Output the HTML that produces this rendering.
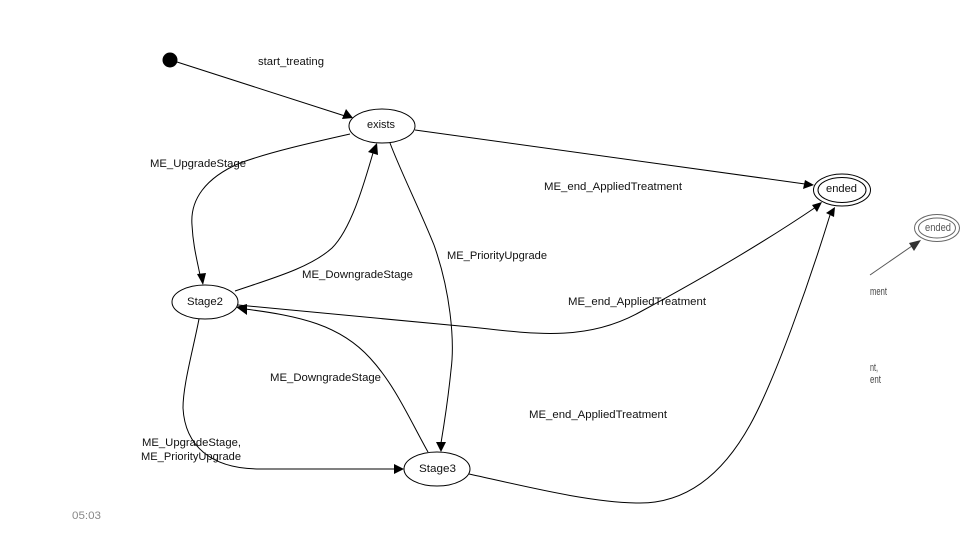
<!DOCTYPE html>
<html>
<head>
<meta charset="utf-8">
<style>
html,body{margin:0;padding:0;background:#fff;width:960px;height:540px;overflow:hidden}
svg{display:block}
text{font-family:"Liberation Sans",sans-serif;font-size:11px;fill:#111}
.e{fill:none;stroke:#000;stroke-width:1}
.n{fill:#fff;stroke:#000;stroke-width:1}
</style>
</head>
<body>
<svg width="960" height="540" viewBox="0 0 960 540" xmlns="http://www.w3.org/2000/svg">
<circle cx="170" cy="60" r="7.5" fill="#000"/>
<path class="e" d="M177 62L345 116"/>
<path class="e" d="M350 134C310 143 270 152 240 163C205 178 190 200 192 225C193 245 197 260 200 275"/>
<path class="e" d="M235 291C270 279 310 268 332 248C352 228 365 180 373 153"/>
<path class="e" d="M390 143C400 170 420 210 434 245C450 290 455 340 451 370C448 400 444 425 441 443"/>
<path class="e" d="M415 130L805 184"/>
<path class="e" d="M199 319C193 350 183 385 183 408C185 445 210 469 260 469L395 469"/>
<path class="e" d="M428 452C410 420 395 385 370 358C340 325 300 316 245 309"/>
<path class="e" d="M816 207C760 245 690 285 640 312C590 340 540 335 480 328C400 320 320 313 238 305"/>
<path class="e" d="M469 474C520 485 590 503 640 503C690 503 725 470 750 425C775 380 810 280 830 215"/>
<polygon points="353,118 342,119 346,109" fill="#000"/>
<polygon points="377,143 378,155 368,152" fill="#000"/>
<polygon points="203,285 197,274 206,273" fill="#000"/>
<polygon points="441,452 436,442 446,442" fill="#000"/>
<polygon points="814,185 803,189 805,180" fill="#000"/>
<polygon points="822,202 812,205 817,212" fill="#000"/>
<polygon points="835,207 826,213 834,217" fill="#000"/>
<polygon points="404,469 394,464 394,474" fill="#000"/>
<polygon points="236,307 247,304 247,315" fill="#000"/>
<ellipse class="n" cx="382" cy="126" rx="33" ry="17"/>
<ellipse class="n" cx="205" cy="302" rx="33" ry="17"/>
<ellipse class="n" cx="437" cy="469" rx="33" ry="17"/>
<ellipse class="n" cx="842" cy="190" rx="28.5" ry="16"/>
<ellipse class="n" cx="842" cy="190" rx="24" ry="12.5"/>
<path d="M870 275L912 246" fill="none" stroke="#555" stroke-width="1"/>
<polygon points="921,240 909,243 914,251" fill="#333"/>
<ellipse cx="937" cy="228" rx="22.5" ry="13.5" fill="#fff" stroke="#666"/>
<ellipse cx="937" cy="228" rx="18.5" ry="10" fill="#fff" stroke="#666"/>
<text x="258" y="65" textLength="66" lengthAdjust="spacingAndGlyphs">start_treating</text>
<text x="367" y="128" textLength="28" lengthAdjust="spacingAndGlyphs">exists</text>
<text x="150" y="167" textLength="96" lengthAdjust="spacingAndGlyphs">ME_UpgradeStage</text>
<text x="544" y="190" textLength="138" lengthAdjust="spacingAndGlyphs">ME_end_AppliedTreatment</text>
<text x="826" y="192" textLength="31" lengthAdjust="spacingAndGlyphs">ended</text>
<text x="925" y="231" textLength="26" lengthAdjust="spacingAndGlyphs" style="fill:#555">ended</text>
<text x="447" y="259" textLength="100" lengthAdjust="spacingAndGlyphs">ME_PriorityUpgrade</text>
<text x="302" y="278" textLength="111" lengthAdjust="spacingAndGlyphs">ME_DowngradeStage</text>
<text x="187" y="305" textLength="36" lengthAdjust="spacingAndGlyphs">Stage2</text>
<text x="568" y="305" textLength="138" lengthAdjust="spacingAndGlyphs">ME_end_AppliedTreatment</text>
<text x="270" y="381" textLength="111" lengthAdjust="spacingAndGlyphs">ME_DowngradeStage</text>
<text x="529" y="418" textLength="138" lengthAdjust="spacingAndGlyphs">ME_end_AppliedTreatment</text>
<text x="142" y="446" textLength="99" lengthAdjust="spacingAndGlyphs">ME_UpgradeStage,</text>
<text x="141" y="460" textLength="100" lengthAdjust="spacingAndGlyphs">ME_PriorityUpgrade</text>
<text x="419" y="472" textLength="37" lengthAdjust="spacingAndGlyphs">Stage3</text>
<text x="870" y="295" textLength="17" lengthAdjust="spacingAndGlyphs" style="fill:#444">ment</text>
<text x="870" y="371" textLength="8" lengthAdjust="spacingAndGlyphs" style="fill:#444">nt,</text>
<text x="870" y="383" textLength="11" lengthAdjust="spacingAndGlyphs" style="fill:#444">ent</text>
<text x="72" y="519" textLength="29" lengthAdjust="spacingAndGlyphs" style="fill:#888">05:03</text>
</svg>
</body>
</html>
